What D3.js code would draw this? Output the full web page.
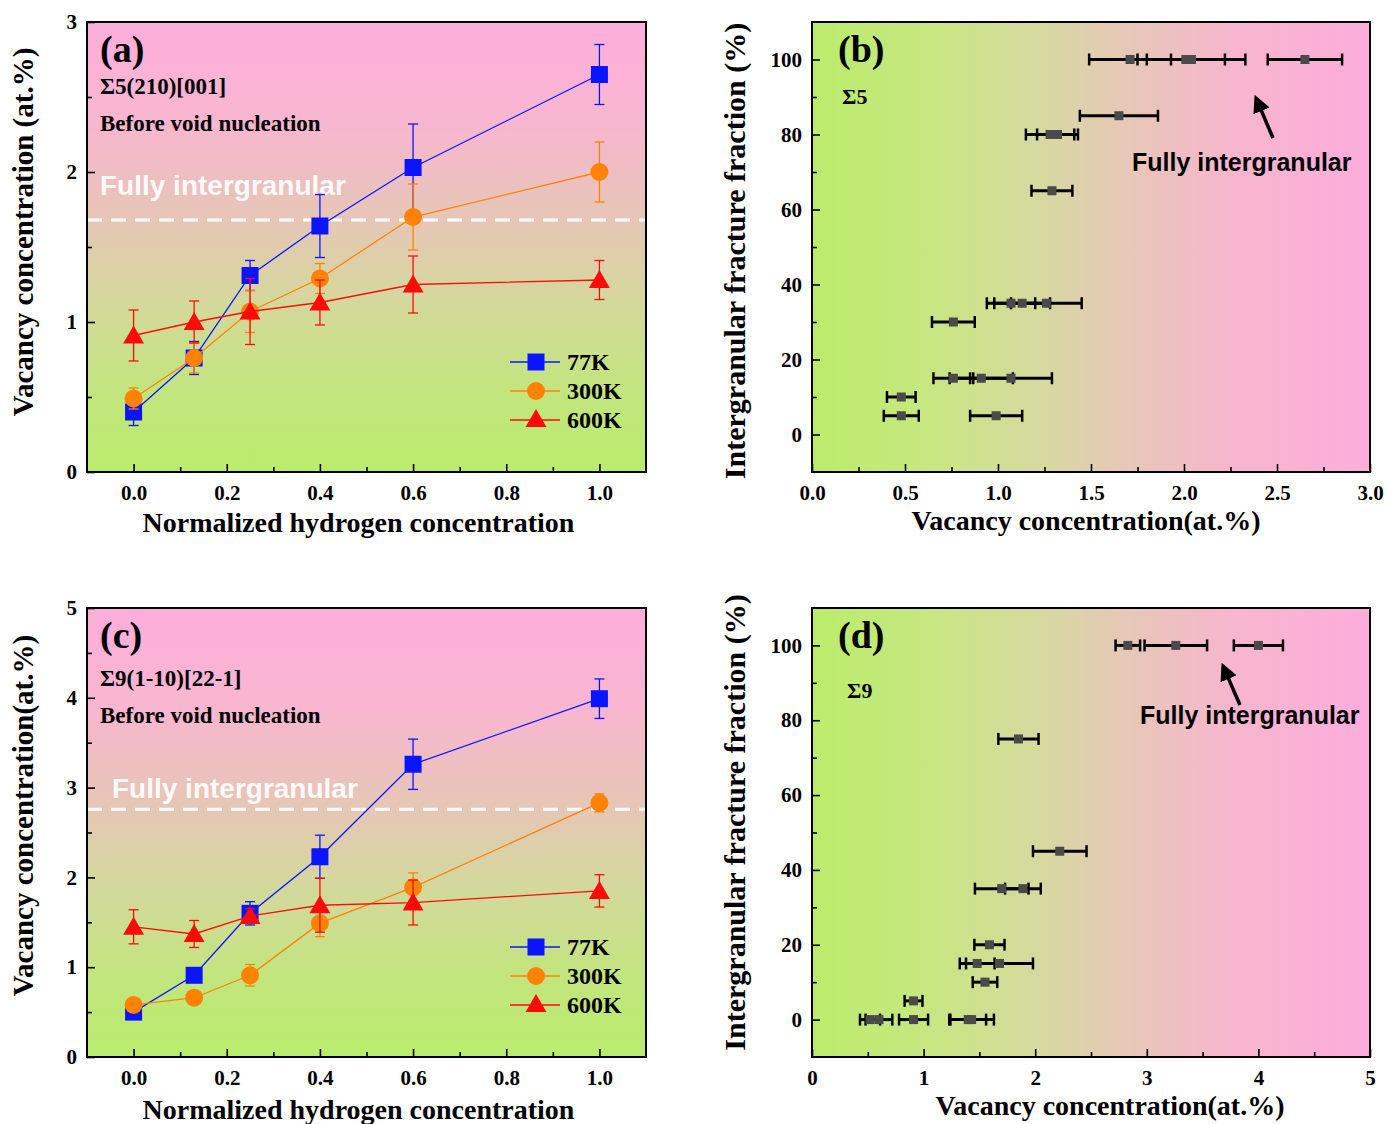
<!DOCTYPE html>
<html>
<head>
<meta charset="utf-8">
<script src="https://cdn.jsdelivr.net/npm/d3@7"></script>
<style>
  body { margin: 0; background: #fff; }
  svg text { font-family: "Liberation Serif", "Times New Roman", serif; font-weight: bold; }
  .sans { font-family: "Liberation Sans", Arial, sans-serif !important; }
</style>
</head>
<body>
<svg width="1387" height="1124"></svg>
<script>
// ---------- data ----------
const hConc = [0, 0.13, 0.25, 0.4, 0.6, 1.0];
const temps = ["77K", "300K", "600K"];
const tempColors = ["#0a14ff", "#ff8204", "#ff0a0a"];

// sigma5 (a)
const s5_77 = [0.40, 0.76, 1.31, 1.64, 2.03, 2.65];
const s5_77err = [0.09, 0.11, 0.10, 0.21, 0.29, 0.20];
const s5_300 = [0.49, 0.76, 1.07, 1.29, 1.70, 2.00];
const s5_300err = [0.07, 0.10, 0.14, 0.10, 0.22, 0.20];
const s5_600 = [0.91, 1.00, 1.07, 1.13, 1.25, 1.28];
const s5_600err = [0.17, 0.14, 0.22, 0.15, 0.19, 0.13];
const s5_threshold = 1.68;

// sigma9 (c)
const s9_77 = [0.50, 0.91, 1.60, 2.23, 3.26, 3.99];
const s9_77err = [0.04, 0.05, 0.13, 0.24, 0.28, 0.22];
const s9_300 = [0.58, 0.66, 0.91, 1.49, 1.89, 2.83];
const s9_300err = [0.05, 0.03, 0.12, 0.15, 0.16, 0.10];
const s9_600 = [1.45, 1.37, 1.57, 1.69, 1.72, 1.85];
const s9_600err = [0.19, 0.15, 0.08, 0.30, 0.25, 0.18];
const s9_threshold = 2.76;

// (b) sigma5 fracture fraction vs vacancy
const b_frac = [100, 100, 100, 100, 85, 80, 80, 65, 35, 35, 35, 30, 15, 15, 15, 10, 5, 5];
const b_vac  = [1.71, 2.01, 2.04, 2.65, 1.65, 1.28, 1.32, 1.29, 1.07, 1.13, 1.26, 0.76, 0.76, 0.91, 1.07, 0.48, 0.48, 0.99];
const b_err  = [0.22, 0.21, 0.29, 0.20, 0.21, 0.13, 0.11, 0.11, 0.13, 0.15, 0.19, 0.115, 0.107, 0.17, 0.22, 0.077, 0.094, 0.14];

// (d) sigma9
const d_frac = [100, 100, 100, 75, 45, 35, 35, 20, 15, 15, 10, 5, 0, 0, 0, 0, 0];
const d_vac  = [2.83, 3.26, 4.00, 1.85, 2.22, 1.70, 1.89, 1.59, 1.48, 1.68, 1.55, 0.91, 0.52, 0.60, 0.91, 1.40, 1.43];
const d_err  = [0.11, 0.28, 0.22, 0.18, 0.24, 0.24, 0.16, 0.135, 0.156, 0.30, 0.11, 0.08, 0.09, 0.12, 0.13, 0.16, 0.20];

const svg = d3.select("svg");
const defs = svg.append("defs");

// gradients
const vgrad = defs.append("linearGradient").attr("id", "vgrad")
  .attr("x1", 0).attr("y1", 0).attr("x2", 0).attr("y2", 1);
[[0, "#fdaedb"], [0.22, "#f8b6d0"], [0.44, "#e6c6b6"], [0.62, "#d4d89c"], [0.82, "#c2e57e"], [1, "#b9ec6c"]]
  .forEach(s => vgrad.append("stop").attr("offset", s[0]).attr("stop-color", s[1]));
const hgrad = defs.append("linearGradient").attr("id", "hgrad")
  .attr("x1", 0).attr("y1", 0).attr("x2", 1).attr("y2", 0);
[[0, "#bbec6c"], [0.18, "#c5e87c"], [0.4, "#d5da9e"], [0.55, "#e5c9b6"], [0.75, "#f6b6cd"], [1, "#fdaddc"]]
  .forEach(s => hgrad.append("stop").attr("offset", s[0]).attr("stop-color", s[1]));

defs.append("marker").attr("id", "arrow").attr("viewBox", "0 0 10 10")
  .attr("refX", 8).attr("refY", 5).attr("markerWidth", 5).attr("markerHeight", 5)
  .attr("orient", "auto")
  .append("path").attr("d", "M0,0 L10,5 L0,10 Z").attr("fill", "#000");

function axes(g, x, y, w, h, xMajor, xMinor, yMajor, yMinor, xFmt, yFmt) {
  const xa = g.append("g").attr("transform", `translate(0,${h})`)
    .call(d3.axisBottom(x).tickValues(xMajor).tickSize(-8).tickPadding(10).tickFormat(xFmt));
  g.append("g").attr("transform", `translate(0,${h})`)
    .call(d3.axisBottom(x).tickValues(xMinor).tickSize(-5).tickFormat(""));
  g.append("g")
    .call(d3.axisLeft(y).tickValues(yMajor).tickSize(-8).tickPadding(10).tickFormat(yFmt));
  g.append("g")
    .call(d3.axisLeft(y).tickValues(yMinor).tickSize(-5).tickFormat(""));
  g.selectAll(".domain").remove();
  g.selectAll(".tick line").attr("stroke", "#000").attr("stroke-width", 1.6);
  g.selectAll(".tick text").attr("font-size", 21).attr("fill", "#000")
    .style("font-family", "'Liberation Serif', serif").style("font-weight", "bold");
  xa.selectAll(".tick text").attr("dy", "0.85em");
}

function marker(sel, i, size) {
  if (i === 0) {
    sel.append("rect").attr("x", -size / 2).attr("y", -size / 2)
      .attr("width", size).attr("height", size).attr("fill", tempColors[0]);
  } else if (i === 1) {
    sel.append("circle").attr("r", size / 2 + 0.5).attr("fill", tempColors[1]);
  } else {
    const s = size + 4;
    sel.append("path").attr("d", d3.symbol(d3.symbolTriangle, s * s * 0.43)()).attr("fill", tempColors[2]);
  }
}

function linePanel(cfg) {
  const w = cfg.w, h = cfg.h;
  const g = svg.append("g").attr("transform", `translate(${cfg.x},${cfg.y})`);
  const x = d3.scaleLinear().domain([-0.1, 1.1]).range([0, w]);
  const y = d3.scaleLinear().domain([0, cfg.ymax]).range([h, 0]);
  g.append("rect").attr("width", w).attr("height", h).attr("fill", "url(#vgrad)");

  // threshold
  g.append("line").attr("x1", 0).attr("x2", w)
    .attr("y1", y(cfg.threshold)).attr("y2", y(cfg.threshold))
    .attr("stroke", "#fff").attr("stroke-width", 3).attr("stroke-dasharray", "15,9");
  g.append("text").attr("class", "sans").attr("x", cfg.fiX).attr("y", cfg.fiY)
    .attr("fill", "#fff").attr("font-size", 28).attr("opacity", 0.92).text("Fully intergranular");

  const yMajor = d3.range(0, cfg.ymax + 0.01, 1);
  const yMinor = d3.range(0.5, cfg.ymax, 1);
  axes(g, x, y, w, h, [0, 0.2, 0.4, 0.6, 0.8, 1.0], [0.1, 0.3, 0.5, 0.7, 0.9],
    yMajor, yMinor, d3.format(".1f"), d3.format("d"));

  const line = d3.line().x((d, i) => x(hConc[i])).y(d => y(d));
  cfg.series.forEach((s, si) => {
    const col = tempColors[si];
    const sg = g.append("g");
    sg.append("path").datum(s.v).attr("d", line).attr("fill", "none")
      .attr("stroke", col).attr("stroke-width", 1.3);
    s.v.forEach((v, i) => {
      const cx = x(hConc[i]), e = s.e[i];
      sg.append("line").attr("x1", cx).attr("x2", cx).attr("y1", y(v - e)).attr("y2", y(v + e))
        .attr("stroke", col).attr("stroke-width", 1.3);
      [v - e, v + e].forEach(c => sg.append("line").attr("x1", cx - 5).attr("x2", cx + 5)
        .attr("y1", y(c)).attr("y2", y(c)).attr("stroke", col).attr("stroke-width", 1.3));
    });
    s.v.forEach((v, i) => {
      marker(sg.append("g").attr("transform", `translate(${x(hConc[i])},${y(v) + (si === 2 ? 2 : 0)})`), si, 17);
    });
  });

  // frame
  g.append("rect").attr("width", w).attr("height", h).attr("fill", "none")
    .attr("stroke", "#000").attr("stroke-width", 2);

  // annotations
  g.append("text").attr("x", 13).attr("y", 40).attr("font-size", 38).text(cfg.tag);
  g.append("text").attr("x", 13).attr("y", cfg.annY).attr("font-size", 23).text(cfg.gb);
  g.append("text").attr("x", 13).attr("y", cfg.annY + 37).attr("font-size", 23).text("Before void nucleation");

  // legend
  temps.forEach((t, i) => {
    const ly = cfg.legY + i * 29;
    const lg = g.append("g").attr("transform", `translate(${cfg.legX},${ly})`);
    lg.append("line").attr("x1", -26).attr("x2", 24).attr("stroke", tempColors[i]).attr("stroke-width", 1.5);
    marker(lg.append("g").attr("transform", `translate(0,${i === 2 ? 1 : 0})`), i, 17);
    lg.append("text").attr("x", 31).attr("y", 8).attr("font-size", 24).text(t);
  });

  // titles
  svg.append("text").attr("x", cfg.x + w / 2 - 8).attr("y", cfg.y + h + cfg.xtY)
    .attr("text-anchor", "middle").attr("font-size", 28).text("Normalized hydrogen concentration");
  svg.append("text").attr("transform", `translate(${cfg.x - 54},${cfg.y + h / 2 + cfg.ytOff}) rotate(-90)`)
    .attr("text-anchor", "middle").attr("font-size", 29).text(cfg.ytitle);
}

function scatterPanel(cfg) {
  const w = cfg.w, h = cfg.h;
  const g = svg.append("g").attr("transform", `translate(${cfg.x},${cfg.y})`);
  const x = d3.scaleLinear().domain([0, cfg.xmax]).range([0, w]);
  const y = d3.scaleLinear().domain([-10, 110]).range([h, 0]);
  g.append("rect").attr("width", w).attr("height", h).attr("fill", "url(#hgrad)");

  axes(g, x, y, w, h, cfg.xMajor, cfg.xMinor, [0, 20, 40, 60, 80, 100], [10, 30, 50, 70, 90],
    cfg.xFmt, d3.format("d"));

  cfg.vac.forEach((v, i) => {
    const cy = y(cfg.frac[i]), e = cfg.err[i];
    g.append("line").attr("x1", x(v - e)).attr("x2", x(v + e)).attr("y1", cy).attr("y2", cy)
      .attr("stroke", "#000").attr("stroke-width", 3);
    [v - e, v + e].forEach(c => g.append("line").attr("x1", x(c)).attr("x2", x(c))
      .attr("y1", cy - 6).attr("y2", cy + 6).attr("stroke", "#000").attr("stroke-width", 2.5));
  });
  cfg.vac.forEach((v, i) => {
    g.append("rect").attr("x", x(v) - 4.5).attr("y", y(cfg.frac[i]) - 4.5)
      .attr("width", 9).attr("height", 9).attr("fill", "#4a4a4a");
  });

  g.append("rect").attr("width", w).attr("height", h).attr("fill", "none")
    .attr("stroke", "#000").attr("stroke-width", 2);

  g.append("text").attr("x", 26).attr("y", 40).attr("font-size", 38).text(cfg.tag);
  g.append("text").attr("x", cfg.sigX).attr("y", cfg.sigY).attr("font-size", 22).text(cfg.sig);
  g.append("line").attr("x1", cfg.arrow[0]).attr("y1", cfg.arrow[1])
    .attr("x2", cfg.arrow[2]).attr("y2", cfg.arrow[3])
    .attr("stroke", "#000").attr("stroke-width", 3.5).attr("marker-end", "url(#arrow)");
  g.append("text").attr("class", "sans").attr("x", cfg.fiX).attr("y", cfg.fiY)
    .attr("font-size", 25).text("Fully intergranular");

  svg.append("text").attr("x", cfg.x + w / 2 + cfg.xtOff).attr("y", cfg.y + h + cfg.xtY)
    .attr("text-anchor", "middle").attr("font-size", 28).text("Vacancy concentration(at.%)");
  svg.append("text").attr("transform", `translate(${cfg.x - 67},${cfg.y + h / 2 + cfg.ytOff}) rotate(-90)`)
    .attr("text-anchor", "middle").attr("font-size", 30).text("Intergranular fracture fraction (%)");
}

linePanel({
  x: 87, y: 22, w: 559, h: 450, ymax: 3, threshold: s5_threshold, tag: "(a)", gb: "Σ5(210)[001]",
  annY: 72, fiX: 13, fiY: 173, legX: 449, legY: 340, xtY: 60, ytOff: -15,
  ytitle: "Vacancy concentration (at.%)",
  series: [{v: s5_77, e: s5_77err}, {v: s5_300, e: s5_300err}, {v: s5_600, e: s5_600err}]
});
linePanel({
  x: 87, y: 608, w: 559, h: 449, ymax: 5, threshold: s9_threshold, tag: "(c)", gb: "Σ9(1-10)[22-1]",
  annY: 78, fiX: 25, fiY: 190, legX: 449, legY: 339, xtY: 62, ytOff: -17,
  ytitle: "Vacancy concentration(at.%)",
  series: [{v: s9_77, e: s9_77err}, {v: s9_300, e: s9_300err}, {v: s9_600, e: s9_600err}]
});
scatterPanel({
  x: 812, y: 22, w: 558, h: 450, xmax: 3, tag: "(b)", sig: "Σ5", sigX: 30, sigY: 82,
  xMajor: [0, 0.5, 1, 1.5, 2, 2.5, 3], xMinor: [0.25, 0.75, 1.25, 1.75, 2.25, 2.75], xFmt: d3.format(".1f"),
  frac: b_frac, vac: b_vac, err: b_err, arrow: [461, 116, 444, 76], fiX: 320, fiY: 149,
  xtY: 58, xtOff: -5, ytOff: 4
});
scatterPanel({
  x: 812, y: 608, w: 558, h: 449, xmax: 5, tag: "(d)", sig: "Σ9", sigX: 35, sigY: 90,
  xMajor: [0, 1, 2, 3, 4, 5], xMinor: [0.5, 1.5, 2.5, 3.5, 4.5], xFmt: d3.format("d"),
  frac: d_frac, vac: d_vac, err: d_err, arrow: [428, 97, 411, 58], fiX: 328, fiY: 116,
  xtY: 58, xtOff: 19, ytOff: -10
});
</script>
</body>
</html>
